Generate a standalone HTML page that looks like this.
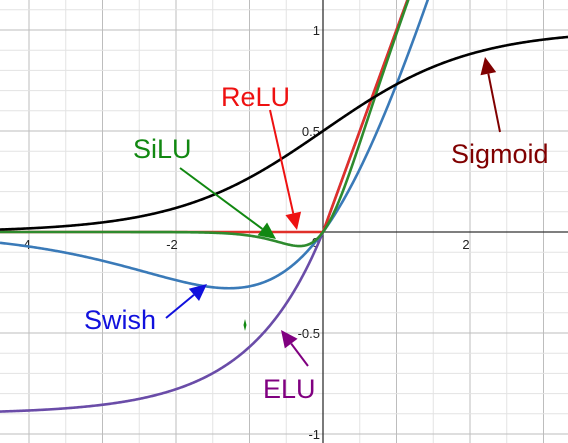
<!DOCTYPE html>
<html><head><meta charset="utf-8"><style>
html,body{margin:0;padding:0;background:#fff;width:568px;height:443px;overflow:hidden}
svg{display:block;font-family:"Liberation Sans",sans-serif}
</style></head><body>
<svg id="c" width="568" height="443"></svg>
<script>
const xTicks=[-4,-2,2];
const yTicks=[1,0.5,-0.5,-1];
const yTickLabels=["1","0.5","-0.5","-1"];
const seriesNames=["ReLU","SiLU","Swish","ELU","Sigmoid"];
const seriesColors=["#e0302a","#2e8b2e","#3a7ab8","#6a4ca8","#000000"];
const siluBeta=[4];
const eluAlpha=[0.9];
const X0=323,UX=73.5,Y0=232,UY=202;
const sx=x=>X0+x*UX, sy=y=>Y0-y*UY;
const svg=document.getElementById('c');
const NS="http://www.w3.org/2000/svg";
function mk(t,a,p){const e=document.createElementNS(NS,t);for(const k in a)e.setAttribute(k,a[k]);(p||svg).appendChild(e);return e;}
const g=mk('g',{});


for(let i=-9;i<=7;i++){const x=i*0.5;const major=i%2===0;
 mk('line',{x1:sx(x),x2:sx(x),y1:0,y2:443,stroke:major?'#bdbdbd':'#e3e3e3','stroke-width':1},g);}
for(let i=-12;i<=12;i++){const y=i*0.1;const major=i%5===0;
 mk('line',{x1:0,x2:568,y1:sy(y),y2:sy(y),stroke:major?'#bdbdbd':'#e3e3e3','stroke-width':1},g);}
const xa=mk('line',{x1:0,x2:568,y1:Y0,y2:Y0,stroke:'#333','stroke-width':1.3});

const ya=mk('line',{x1:X0,x2:X0,y1:0,y2:443,stroke:'#333','stroke-width':1.3});

xTicks.forEach(v=>{const t=mk('text',{x:sx(v)-4,y:Y0+17,'font-size':13,'text-anchor':'middle',fill:'#222'});t.textContent=String(v);
 });
const z=mk('text',{x:X0-4,y:Y0+15,'font-size':13,'text-anchor':'end',fill:'#222'});z.textContent='0';

yTicks.forEach((v,i)=>{const t=mk('text',{x:X0-3,y:sy(v)+5,'font-size':13,'text-anchor':'end',fill:'#222'});t.textContent=yTickLabels[i];
 });
const sig=x=>1/(1+Math.exp(-x));
const fns=[x=>Math.max(0,x),x=>x*sig(siluBeta[0]*x),x=>x*sig(x),x=>x>=0?x:eluAlpha[0]*(Math.exp(x)-1),x=>sig(x)];
const order=[3,2,0,1,4];
order.forEach(i=>{let d='';for(let px=0;px<=568;px+=1){const x=(px-X0)/UX;d+=(px?'L':'M')+px+','+sy(fns[i](x)).toFixed(2);}
 const p=mk('path',{d:d,fill:'none',stroke:seriesColors[i],'stroke-width':2.6});
 });
function arrow(x1,y1,x2,y2,col){const a=Math.atan2(y2-y1,x2-x1),L=17,W=8;
 const bx=x2-L*Math.cos(a),by=y2-L*Math.sin(a);
 const g=mk('g',{});
 mk('line',{x1:x1,y1:y1,x2:bx,y2:by,stroke:col,'stroke-width':2},g);
 mk('polygon',{points:`${x2},${y2} ${bx-W*Math.sin(a)},${by+W*Math.cos(a)} ${bx+W*Math.sin(a)},${by-W*Math.cos(a)}`,fill:col},g);return g;}
function label(txt,x,y,col,name){const t=mk('text',{x:x,y:y,'font-size':27,fill:col});t.textContent=txt;
 }
label('ReLU',221,106,'#ee1111','relu-label');
let a=arrow(270,110,297,230,'#ee1111');
label('SiLU',133,158,'#118811','silu-label');
a=arrow(180,168,276,239,'#118811');
label('Sigmoid',451,163,'#800000','sigmoid-label');
a=arrow(500,132,485,57,'#800000');
label('Swish',84,329,'#1111dd','swish-label');
a=arrow(166,318,207,284,'#1111dd');
label('ELU',263,398,'#800080','elu-label');
a=arrow(308,366,281,330,'#800080');
const m=mk('polygon',{points:'245,319 246.5,325 245,331 243.5,325',fill:'#118811'});

</script>
</body></html>
